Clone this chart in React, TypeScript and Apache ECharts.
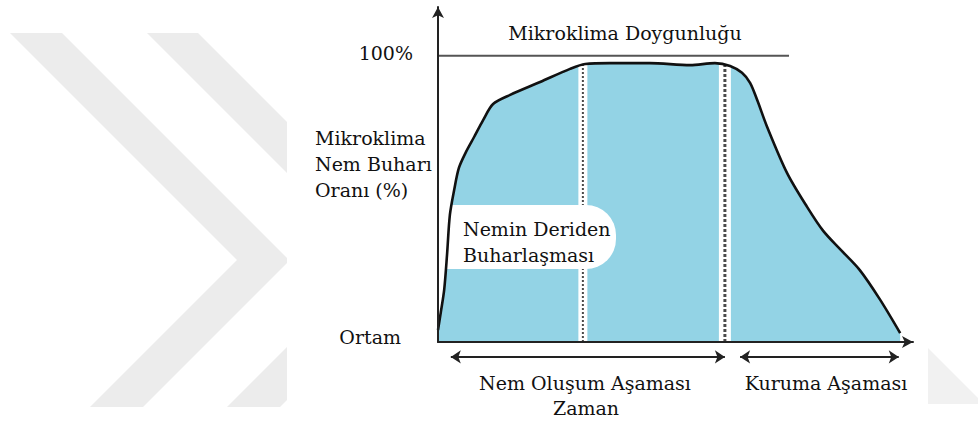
import React, { useEffect, useRef } from "react";
import * as echarts from "echarts";

// Time axis (arbitrary units 0–100) and microclimate vapour ratio (%)
const timeSteps = [0, 0.6, 1.3, 1.9, 2.5, 3.4, 4.4, 5.9, 7.6, 9.5, 11.6, 15.2, 21.5, 27.8, 31.0, 36.2, 44.6, 53.1, 58.3, 61.5, 64.0, 65.7, 67.2, 69.3, 73.5, 77.7, 81.1, 84.6, 88.8, 93.1, 97.3];
const humidity = [4.2, 10.5, 18.2, 30.4, 44.4, 53.1, 60.8, 66.4, 71.6, 77.5, 83.1, 86.3, 90.8, 95.4, 97.1, 97.4, 97.4, 96.7, 97.4, 96.4, 94.0, 90.5, 84.5, 75.1, 59.0, 47.2, 38.8, 32.5, 25.1, 14.7, 3.1];

// Phase boundaries (dotted verticals) and the phase arrows under the axis
const boundaryTimes = [30.5, 60.4];
const boundaryTop = 97;
const phaseNames = ["Nem Oluşum Aşaması", "Kuruma Aşaması"];
const phaseStart = [2.7, 63.6];
const phaseEnd = [60.4, 97.0];
const arrowLevel = -5.2;

// Saturation reference line
const saturation = 100;
const saturationEnd = 73.9;

const FONT = '"DejaVu Serif", "Liberation Serif", serif';
const INK = "#111111";
const FILL = "#93d3e5";

function txt(text: string, x: number, y: number, align: string = "left") {
  return {
    type: "text",
    x,
    y,
    z: 20,
    style: {
      text,
      fill: INK,
      fontFamily: FONT,
      fontSize: 19,
      textAlign: align,
      textVerticalAlign: "middle",
    },
  };
}

export default function App() {
  const ref = useRef<HTMLDivElement>(null);

  useEffect(() => {
    if (!ref.current) return;
    const chart = echarts.init(ref.current, null, { renderer: "svg" });
    const curve = timeSteps.map((t, i) => [t, humidity[i]]);

    const boundarySeries: any[] = [];
    boundaryTimes.forEach((t, i) => {
      boundarySeries.push({
        type: "line",
        data: [[t, 0], [t, boundaryTop]],
        symbol: "none",
        z: 3,
        silent: true,
        lineStyle: { color: "#ffffff", width: i === 0 ? 9 : 12, cap: "butt" },
      });
      boundarySeries.push({
        type: "line",
        data: [[t, 0], [t, boundaryTop]],
        symbol: "none",
        z: 4,
        silent: true,
        lineStyle: {
          color: "#4a4a4a",
          width: i === 0 ? 2 : 3,
          type: i === 0 ? [2, 2] : [3, 2],
          cap: "butt",
        },
      });
    });

    const chevron = "#ececec";
    const curveBase = {
      type: "line",
      data: curve,
      smooth: 0.3,
      symbol: "none",
      silent: true,
    };

    chart.setOption({
      animation: false,
      backgroundColor: "#ffffff",
      grid: { left: 438, right: 65, top: 7, bottom: 81 },
      xAxis: {
        type: "value",
        min: 0,
        max: 100,
        z: 10,
        axisLine: {
          show: true,
          symbol: ["none", "arrow"],
          symbolSize: [9, 11],
          lineStyle: { color: "#222222", width: 2 },
        },
        axisTick: { show: false },
        axisLabel: { show: false },
        splitLine: { show: false },
      },
      yAxis: {
        type: "value",
        min: 0,
        max: 117,
        z: 10,
        axisLine: {
          show: true,
          symbol: ["none", "arrow"],
          symbolSize: [9, 11],
          lineStyle: { color: "#222222", width: 2 },
        },
        axisTick: { show: false },
        axisLabel: { show: false },
        splitLine: { show: false },
      },
      series: [
        {
          ...curveBase,
          z: 2,
          lineStyle: { width: 0 },
          areaStyle: { color: FILL, opacity: 1 },
        },
        ...boundarySeries,
        {
          ...curveBase,
          z: 6,
          lineStyle: { color: "#111111", width: 2.6 },
        },
        {
          type: "line",
          data: [[0, saturation], [saturationEnd, saturation]],
          symbol: "none",
          z: 6,
          silent: true,
          lineStyle: { color: "#555555", width: 2 },
        },
        {
          type: "lines",
          coordinateSystem: "cartesian2d",
          clip: false,
          z: 6,
          silent: true,
          symbol: ["arrow", "arrow"],
          symbolSize: 10,
          lineStyle: { color: "#222222", width: 2, opacity: 1 },
          data: phaseNames.map((n, i) => ({
            name: n,
            coords: [[phaseStart[i], arrowLevel], [phaseEnd[i], arrowLevel]],
          })),
        },
      ],
      graphic: [
        // background chevrons
        { type: "polygon", z: 0, shape: { points: [[10, 33], [62, 33], [287, 258], [287, 263], [143, 407], [90, 407], [237, 260]] }, style: { fill: chevron } },
        { type: "polygon", z: 0, shape: { points: [[147, 33], [198, 33], [287, 122], [287, 173]] }, style: { fill: chevron } },
        { type: "polygon", z: 0, shape: { points: [[227, 407], [287, 347], [287, 400], [280, 407]] }, style: { fill: chevron } },
        { type: "polygon", z: 0, shape: { points: [[928, 348], [978, 398], [978, 404], [928, 404]] }, style: { fill: "#f1f1f1" } },
        // white bubble behind the evaporation note
        { type: "rect", z: 5, shape: { x: 441, y: 205, width: 175, height: 64, r: [0, 30, 30, 0] }, style: { fill: "#ffffff" } },
        txt("Mikroklima Doygunluğu", 625, 33, "center"),
        txt("100%", 413, 53, "right"),
        txt("Mikroklima", 315, 138),
        txt("Nem Buharı", 315, 164),
        txt("Oranı (%)", 315, 190),
        txt("Ortam", 401, 337, "right"),
        txt("Nemin Deriden", 463, 229),
        txt("Buharlaşması", 463, 255),
        txt(phaseNames[0], 585, 383, "center"),
        txt(phaseNames[1], 826, 383, "center"),
        txt("Zaman", 586, 408, "center"),
      ],
    });

    return () => chart.dispose();
  }, []);

  return (
    <div
      ref={ref}
      style={{ position: "absolute", left: 0, top: 0, width: 978, height: 423 }}
    />
  );
}
